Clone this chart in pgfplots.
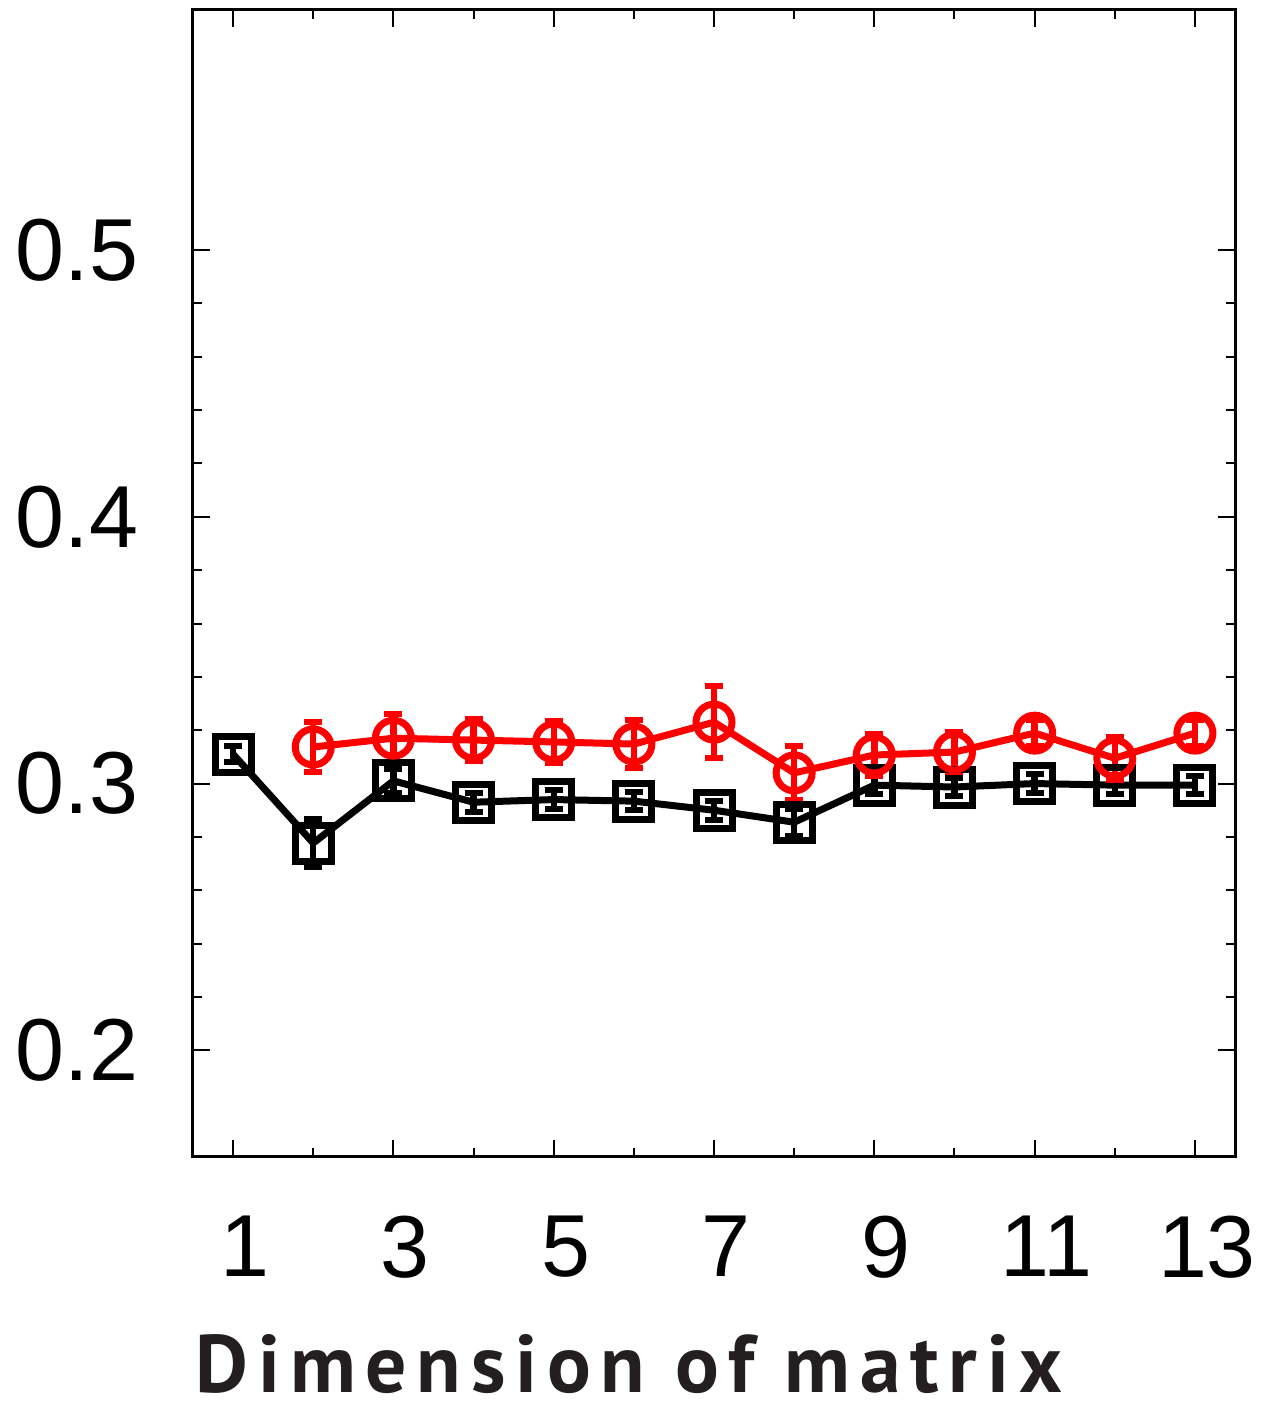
\documentclass[border=0pt]{standalone}
\usepackage{pgfplots}
\pgfplotsset{compat=1.18}
\usepackage{fontspec}
\setmainfont{Liberation Sans}
\newfontfamily\titlefont[LetterSpace=12]{PT Sans}
\definecolor{labelgray}{RGB}{35,31,32}
\definecolor{myred}{RGB}{255,0,0}
\begin{document}
\begin{tikzpicture}
\begin{axis}[
  scale only axis, width=260.5pt, height=286.75pt,
  xmin=0.5, xmax=13.5, ymin=0.16, ymax=0.59,
  xtick={1,3,5,7,9,11,13}, minor x tick num=1,
  xticklabels={1,3,5,7,9,11,13},
  ytick={0.2,0.3,0.4,0.5}, minor y tick num=4,
  yticklabels={0.2,0.3,0.4,0.5},
  tick align=inside,
  major tick length=4.25pt, minor tick length=2.25pt,
  every tick/.style={black, line width=0.5pt},
  axis line style={line width=0.75pt},
  yticklabel style={font=\fontsize{22}{24}\selectfont, anchor=east, inner sep=0pt, xshift=-13.5pt},
  xticklabel style={font=\fontsize{22}{24}\selectfont, anchor=north, inner sep=0pt, xshift=3pt, yshift=-14.5pt},
  xlabel={Dimension of matrix},
  xlabel style={at={(axis description cs:0,0)}, anchor=base west, inner sep=0pt, xshift=0.5pt, yshift=-58.75pt, font=\titlefont\fontsize{20.4}{24}\selectfont\bfseries, text=labelgray},
  error bars/error bar style={line width=1.6pt},
  error bars/error mark options={rotate=90, line width=1.5pt, mark size=2.25pt},
]
\addplot[black, line width=1.75pt, mark=square, mark size=4.5pt, mark options={line width=1.75pt, fill=none},
  error bars/.cd, y dir=both, y explicit]
  table[x=x, y=y, y error=e] {
x y e
1 0.3110 0.0030
2 0.2777 0.0090
3 0.3010 0.0045
4 0.2930 0.0035
5 0.2940 0.0035
6 0.2934 0.0035
7 0.2900 0.0035
8 0.2855 0.0050
9 0.2994 0.0035
10 0.2987 0.0035
11 0.3000 0.0035
12 0.2994 0.0035
13 0.2994 0.0035
};
\addplot[myred, line width=1.75pt, mark=o, mark size=4.5pt, mark options={line width=1.75pt, fill=none},
  error bars/.cd, y dir=both, y explicit]
  table[x=x, y=y, y error=e] {
x y e
2 0.3137 0.0095
3 0.3170 0.0090
4 0.3163 0.0080
5 0.3156 0.0080
6 0.3148 0.0090
7 0.3230 0.0135
8 0.3040 0.0100
9 0.3107 0.0080
10 0.3118 0.0075
11 0.3189 0.0050
12 0.3095 0.0080
13 0.3189 0.0050
};
\end{axis}
\pgfresetboundingbox
\path[use as bounding box] ([xshift=-48.25pt,yshift=-62.75pt]current axis.south west) rectangle ([xshift=8.25pt,yshift=2.5pt]current axis.north east);
\end{tikzpicture}
\end{document}
